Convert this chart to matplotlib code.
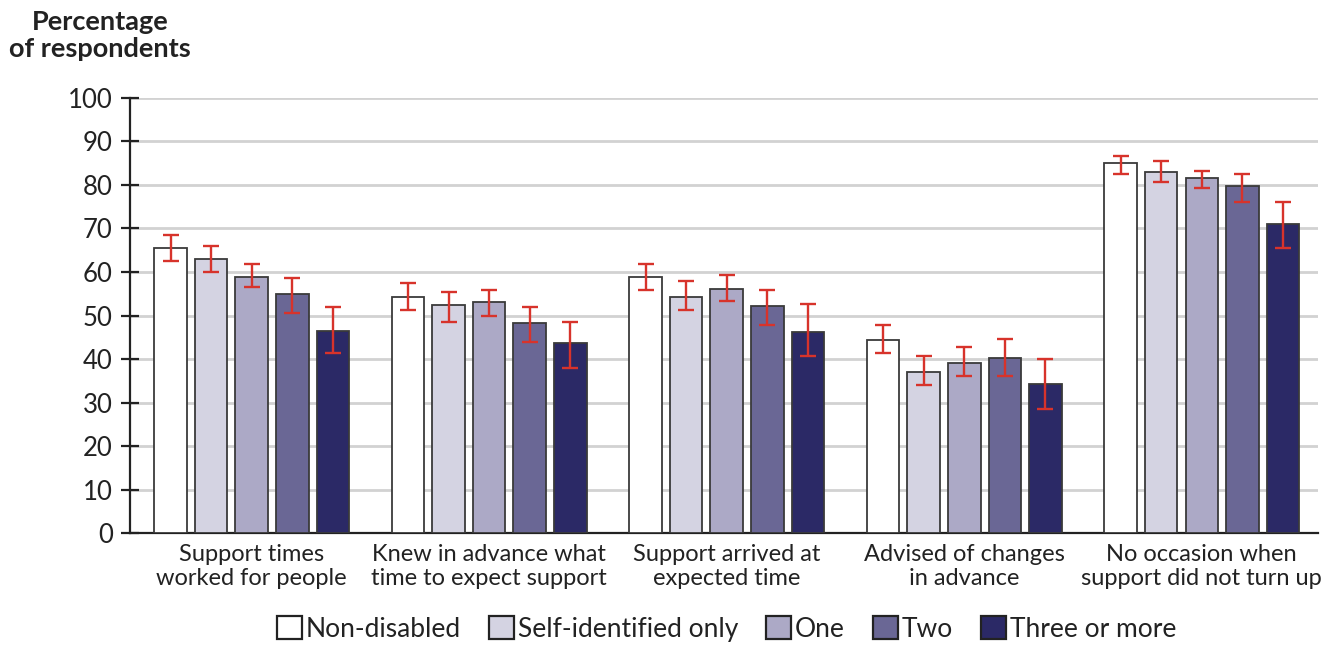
import numpy as np
import matplotlib
matplotlib.use("Agg")
import matplotlib.pyplot as plt
from matplotlib.patches import Patch

plt.rcParams['font.family'] = ['Lato', 'DejaVu Sans']

categories = [
    "Support times\nworked for people",
    "Knew in advance what\ntime to expect support",
    "Support arrived at\nexpected time",
    "Advised of changes\nin advance",
    "No occasion when\nsupport did not turn up",
]
groups = ["Non-disabled", "Self-identified only", "One", "Two", "Three or more"]

# percentages per disability group, one list per group (across the five categories)
non_disabled = [65.6, 54.3, 58.9, 44.3, 85.0]
self_identified = [63.0, 52.3, 54.3, 37.0, 83.0]
one = [58.9, 53.0, 56.2, 39.0, 81.7]
two = [55.0, 48.3, 52.1, 40.3, 79.7]
three_plus = [46.4, 43.6, 46.3, 34.3, 71.0]

# confidence interval bounds
non_disabled_lo = [62.6, 51.3, 55.9, 41.3, 82.6]
non_disabled_hi = [68.6, 57.4, 61.9, 47.9, 86.7]
self_identified_lo = [59.9, 48.6, 51.3, 34.0, 80.7]
self_identified_hi = [66.0, 55.3, 58.0, 40.6, 85.4]
one_lo = [56.6, 50.0, 53.3, 36.0, 79.4]
one_hi = [61.9, 55.9, 59.3, 42.7, 83.3]
two_lo = [50.6, 44.0, 47.9, 36.0, 76.0]
two_hi = [58.6, 52.0, 55.8, 44.6, 82.6]
three_plus_lo = [41.3, 38.0, 40.6, 28.6, 65.5]
three_plus_hi = [52.0, 48.6, 52.6, 39.9, 76.0]

values = [non_disabled, self_identified, one, two, three_plus]
lows = [non_disabled_lo, self_identified_lo, one_lo, two_lo, three_plus_lo]
highs = [non_disabled_hi, self_identified_hi, one_hi, two_hi, three_plus_hi]
colors = ["#ffffff", "#d4d3e2", "#aca9c6", "#6a6795", "#2b2966"]
err_color = "#d7332b"

fig = plt.figure(figsize=(13.38, 6.45), dpi=100)
ax = fig.add_axes([0.0972, 0.1736, 0.8878, 0.6745])

x = np.arange(len(categories))
pitch = 0.1708
width = 0.137
for i, (vals, lo, hi, c) in enumerate(zip(values, lows, highs, colors)):
    pos = x + (i - 2) * pitch
    vals = np.array(vals)
    yerr = [vals - np.array(lo), np.array(hi) - vals]
    ax.bar(pos, vals, width, color=c, edgecolor="#3a3a3a", linewidth=1.3,
           zorder=3, label=groups[i])
    ax.errorbar(pos, vals, yerr=yerr, fmt="none", ecolor=err_color,
                elinewidth=1.7, capsize=5.5, capthick=1.7, zorder=4)

ax.set_ylim(0, 100)
ax.set_xlim(-0.512, 4.489)
ax.set_yticks(range(0, 101, 10))
ax.yaxis.grid(True, color="#d2d2d2", linewidth=2, zorder=0)
ax.set_axisbelow(True)
for side in ("top", "right"):
    ax.spines[side].set_visible(False)
ax.spines["left"].set_linewidth(1.6)
ax.spines["bottom"].set_linewidth(1.6)
ax.spines["left"].set_color("#222222")
ax.spines["bottom"].set_color("#222222")
ax.tick_params(axis="y", direction="inout", length=13, width=1.6,
               labelsize=18.5, pad=6, colors="#222222", labelcolor="#222222")
ax.tick_params(axis="x", length=0, labelsize=17, pad=8, labelcolor="#222222")
ax.set_xticks(x)
ax.set_xticklabels(categories, linespacing=1.15)

fig.text(100 / 1338, 1 - 10 / 645, "Percentage\nof respondents", ha="center",
         va="top", fontsize=19.5, fontweight="bold", color="#222222",
         linespacing=1.15)

handles = [Patch(facecolor=c, edgecolor="#222222", linewidth=1.6) for c in colors]
fig.legend(handles, groups, loc="center", bbox_to_anchor=(0.543, 0.025),
           ncol=5, frameon=False, fontsize=19, handlelength=0.95,
           handleheight=0.95, handletextpad=0.15, columnspacing=1.05,
           labelcolor="#222222")

fig.savefig("out.png", dpi=100)
